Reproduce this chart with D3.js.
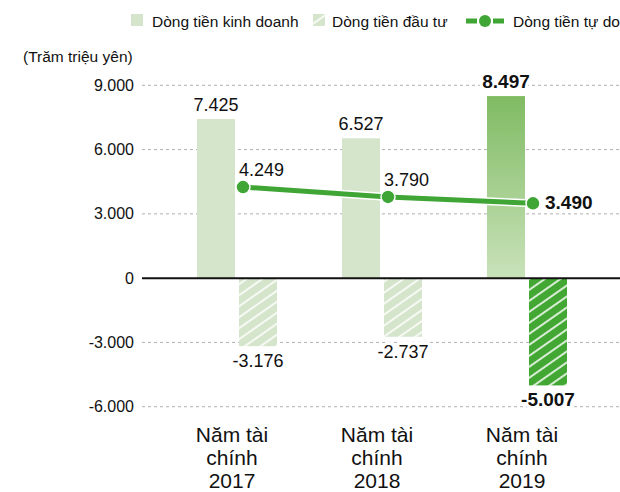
<!DOCTYPE html>
<html lang="vi">
<head>
<meta charset="utf-8">
<script src="https://d3js.org/d3.v7.min.js"></script>
<style>
  body { margin: 0; background: #fff; }
  svg { font-family: "Liberation Sans", Arial, sans-serif; display: block; }
</style>
</head>
<body>
<script>
// data
const years = ["2017", "2018", "2019"];
const operating = [7425, 6527, 8497];
const investing = [-3176, -2737, -5007];
const freeCash = [4249, 3790, 3490];
const yTicks = [9000, 6000, 3000, 0, -3000, -6000];
const legendLabels = ["Dòng tiền kinh doanh", "Dòng tiền đầu tư", "Dòng tiền tự do"];
const unitLabel = "(Trăm triệu yên)";

const W = 620, H = 492;
const green = "#3fa535", light = "#d5e5cb";
const fmt = v => d3.format(",")(v).replace(/,/g, ".").replace("\u2212", "-");

const svg = d3.select("body").append("svg").attr("width", W).attr("height", H);
const defs = svg.append("defs");

function hatch(id, bg) {
  const p = defs.append("pattern").attr("id", id).attr("patternUnits", "userSpaceOnUse")
    .attr("width", 9).attr("height", 9).attr("patternTransform", "rotate(-35)");
  p.append("rect").attr("width", 9).attr("height", 9).attr("fill", bg);
  p.append("line").attr("x1", 0).attr("y1", 1).attr("x2", 9).attr("y2", 1)
    .attr("stroke", "#fff").attr("stroke-width", 1.6);
}
hatch("hatchLight", light);
hatch("hatchDark", "#43a833");

const grad = defs.append("linearGradient").attr("id", "gradOp")
  .attr("x1", 0).attr("y1", 0).attr("x2", 0).attr("y2", 1);
grad.append("stop").attr("offset", "0%").attr("stop-color", "#80bb63");
grad.append("stop").attr("offset", "100%").attr("stop-color", "#c9e2ba");

const y = d3.scaleLinear().domain([-6000, 9000]).range([406.7, 85.3]);
const x = d3.scalePoint().domain(years).range([237, 527]);

// grid
svg.append("g").selectAll("line").data(yTicks.filter(t => t !== 0)).join("line")
  .attr("x1", 142).attr("x2", W).attr("y1", d => y(d)).attr("y2", d => y(d))
  .attr("stroke", "#b0b0b0").attr("stroke-dasharray", "3,3");

// y axis labels
const yAxis = svg.append("g").attr("transform", "translate(134,0)")
  .call(d3.axisLeft(y).tickValues(yTicks).tickSize(0).tickPadding(0).tickFormat(fmt));
yAxis.select(".domain").remove();
yAxis.selectAll("text").attr("font-size", 16).attr("fill", "#111")
  .attr("font-family", "Liberation Sans, Arial, sans-serif");

svg.append("text").attr("x", 23).attr("y", 62).attr("font-size", 15.5).attr("fill", "#111")
  .text(unitLabel);

// bars
svg.append("g").selectAll("rect").data(years).join("rect")
  .attr("x", d => x(d) - 40).attr("width", 38)
  .attr("y", (d, i) => y(operating[i]))
  .attr("height", (d, i) => y(0) - y(operating[i]))
  .attr("fill", (d, i) => i === 2 ? "url(#gradOp)" : light);

svg.append("g").selectAll("rect").data(years).join("rect")
  .attr("x", d => x(d) + 2).attr("width", 38)
  .attr("y", y(0))
  .attr("height", (d, i) => y(investing[i]) - y(0))
  .attr("fill", (d, i) => i === 2 ? "url(#hatchDark)" : "url(#hatchLight)");

// zero line
svg.append("line").attr("x1", 142).attr("x2", W).attr("y1", y(0)).attr("y2", y(0))
  .attr("stroke", "#111").attr("stroke-width", 2);

// value labels
const label = (sel) => sel.attr("fill", "#111")
  .attr("stroke", "#fff").attr("stroke-width", 6).attr("paint-order", "stroke")
  .attr("stroke-linejoin", "round");

svg.append("g").selectAll("text").data(years).join("text")
  .attr("x", d => x(d) - 21).attr("y", (d, i) => y(operating[i]) - 8)
  .attr("text-anchor", "middle")
  .attr("font-size", (d, i) => i === 2 ? 19 : 18)
  .attr("font-weight", (d, i) => i === 2 ? "bold" : "normal")
  .text((d, i) => fmt(operating[i])).call(label);

svg.append("g").selectAll("text").data(years).join("text")
  .attr("x", d => x(d) + 21).attr("y", (d, i) => y(investing[i]) + 21)
  .attr("text-anchor", "middle")
  .attr("font-size", (d, i) => i === 2 ? 19 : 18)
  .attr("font-weight", (d, i) => i === 2 ? "bold" : "normal")
  .text((d, i) => fmt(investing[i])).call(label);

// free cash flow line
const pts = years.map((d, i) => [x(d) + 6, y(freeCash[i])]);
const line = d3.line();
svg.append("path").attr("d", line(pts)).attr("fill", "none")
  .attr("stroke", "#fff").attr("stroke-width", 8);
svg.append("path").attr("d", line(pts)).attr("fill", "none")
  .attr("stroke", green).attr("stroke-width", 5);
svg.append("g").selectAll("circle").data(pts).join("circle")
  .attr("cx", d => d[0]).attr("cy", d => d[1]).attr("r", 7)
  .attr("fill", green).attr("stroke", "#fff").attr("stroke-width", 1.5);

svg.append("g").selectAll("text").data(pts).join("text")
  .attr("x", (d, i) => i === 2 ? d[0] + 12 : d[0] - 4)
  .attr("y", (d, i) => i === 2 ? d[1] + 6 : d[1] - 11)
  .attr("font-size", (d, i) => i === 2 ? 19 : 18)
  .attr("font-weight", (d, i) => i === 2 ? "bold" : "normal")
  .text((d, i) => fmt(freeCash[i])).call(label);

// category labels
const cat = svg.append("g").selectAll("text").data(years).join("text")
  .attr("text-anchor", "middle").attr("font-size", 21).attr("fill", "#111");
["Năm tài", "chính", null].forEach((t, k) => {
  cat.append("tspan").attr("x", d => x(d) - 5).attr("y", 442 + k * 23)
    .text(d => t === null ? d : t);
});

// legend
const lg = svg.append("g").attr("font-size", 15.5).attr("fill", "#111");
lg.append("rect").attr("x", 131).attr("y", 14).attr("width", 12).attr("height", 12).attr("fill", light);
lg.append("text").attr("x", 152).attr("y", 27).text(legendLabels[0]);
lg.append("rect").attr("x", 313).attr("y", 14).attr("width", 12).attr("height", 12).attr("fill", "url(#hatchLight)");
lg.append("text").attr("x", 332).attr("y", 27).text(legendLabels[1]);
lg.append("line").attr("x1", 466).attr("x2", 504).attr("y1", 21).attr("y2", 21)
  .attr("stroke", green).attr("stroke-width", 5).attr("stroke-dasharray", "11,16");
lg.append("circle").attr("cx", 485).attr("cy", 21).attr("r", 6).attr("fill", green);
lg.append("text").attr("x", 513).attr("y", 27).text(legendLabels[2]);
</script>
</body>
</html>
